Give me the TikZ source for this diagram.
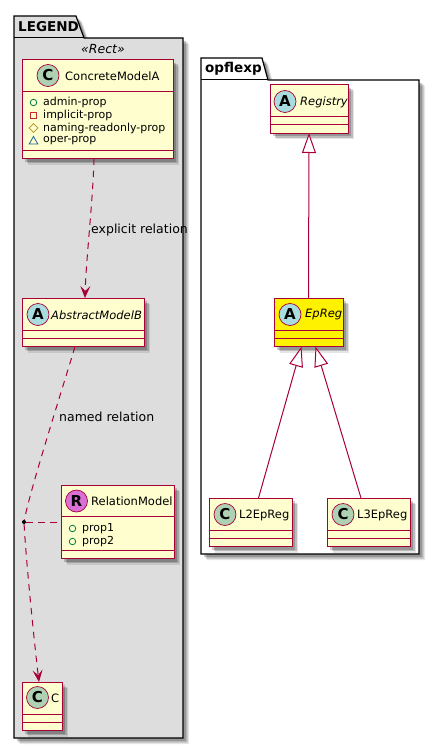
\documentclass[tikz,border=0pt]{standalone}
\usepackage{fontspec}
\setmainfont{DejaVu Sans}
\usetikzlibrary{arrows.meta,shadows,shapes.geometric}
\definecolor{umlline}{HTML}{A80036}
\definecolor{umlfill}{HTML}{FEFECE}
\tikzset{
  softshadow/.style={
    drop shadow={shadow xshift=6pt, shadow yshift=-6pt, opacity=0.1, fill=black},
    drop shadow={shadow xshift=4.5pt, shadow yshift=-4.5pt, opacity=0.18, fill=black},
    drop shadow={shadow xshift=3pt, shadow yshift=-3pt, opacity=0.2, fill=black}
  },
  umlclass/.style={
    shape = rectangle,
    anchor = north west,
    draw = umlline,
    line width = 1pt,
    fill = umlfill,
    outer sep = 0pt,
    inner sep = 0pt,
    softshadow
  },
  sep/.style={
    draw = umlline,
    line width = 1pt
  },
  spot/.style={
    shape = circle,
    draw = umlline,
    line width = 0.7pt,
    minimum size = 22pt,
    inner sep = 0pt,
    font = \fontsize{15}{15}\bfseries
  },
  spotc/.style={spot, fill={rgb,255:red,173;green,209;blue,178}},
  spota/.style={spot, fill={rgb,255:red,169;green,220;blue,223}},
  spotr/.style={spot, fill={rgb,255:red,218;green,112;blue,214}},
  title/.style={
    anchor = west,
    inner sep = 0pt,
    text = black,
    font = \fontsize{11.5}{14}\selectfont
  },
  ititle/.style={title, font = \fontsize{11.5}{14}\itshape},
  attr/.style={
    anchor = west,
    inner sep = 0pt,
    font = \fontsize{11}{12}\selectfont
  },
  rel/.style={
    anchor = west,
    inner sep = 0pt,
    font = \fontsize{12.5}{14}\selectfont
  },
  pkgname/.style={
    anchor = west,
    inner sep = 0pt,
    font = \fontsize{13.5}{14}\bfseries
  },
  pkg/.style={
    draw = black,
    line width = 1.2pt,
    softshadow
  },
  vis/.style={
    inner sep = 0pt,
    fill = none,
    line width = 0.8pt
  },
  dep/.style={
    draw = umlline,
    line width = 1pt,
    dash pattern = on 6.5pt off 5.5pt
  },
  open/.style={
    -{Stealth[length=12pt,width=10pt,inset=5pt,fill=umlline]}
  },
  inherit/.style={
    draw = umlline,
    line width = 1pt,
    {Triangle[open,fill=white,length=20pt,width=14pt]}-
  },
}
\begin{document}
\begin{tikzpicture}[x=1pt,y=-1pt]
\useasboundingbox (0,0) rectangle (440,749);
% packages
\draw[pkg, fill={rgb,255:red,221;green,221;blue,221}] (14,38) -- (14,16) -- (76,16) -- (84,38) -- (183,38) -- (183,738) -- (14,738) -- cycle;
\draw[line width=1pt] (14,38) -- (84,38);
\node[pkgname] (legend) at (18,27) {LEGEND};
\node[anchor=center, inner sep=0pt, font=\fontsize{12.5}{14}\itshape] (stereo) at (103,49.5) {«Rect»};
\draw[pkg, fill=white] (201,80) -- (201,58) -- (262,58) -- (268,80) -- (419,80) -- (419,554) -- (201,554) -- cycle;
\draw[line width=1pt] (201,80) -- (268,80);
\node[pkgname] (opflexp) at (205,69) {opflexp};
% class boxes
\node[umlclass, minimum width=151pt, minimum height=98.6pt] (concrete) at (22,60) {};
\node[umlclass, minimum width=122pt, minimum height=48.6pt] (abstract) at (22,298) {};
\node[umlclass, minimum width=113pt, minimum height=73.6pt] (relation) at (61,485) {};
\node[umlclass, minimum width=40pt, minimum height=48.6pt] (cclass) at (22,682) {};
\node[umlclass, minimum width=78pt, minimum height=48pt] (registry) at (270,85) {};
\node[umlclass, fill=yellow, minimum width=69pt, minimum height=48.6pt] (epreg) at (274,298) {};
\node[umlclass, minimum width=83pt, minimum height=48.6pt] (ltwo) at (209,498) {};
\node[umlclass, minimum width=83pt, minimum height=48.6pt] (lthree) at (327,498) {};
\foreach \nm in {concrete,abstract,relation,cclass,registry,epreg,ltwo,lthree}{
  \draw[sep] ([yshift=8.2pt]\nm.south west) -- ([yshift=8.2pt]\nm.south east);
}
\foreach \nm in {abstract,cclass,registry,epreg,ltwo,lthree}{
  \draw[sep] ([yshift=16.2pt]\nm.south west) -- ([yshift=16.2pt]\nm.south east);
}
\foreach \nm in {concrete,relation}{
  \draw[sep] ([yshift=-31.7pt]\nm.north west) -- ([yshift=-31.7pt]\nm.north east);
}
% spots and titles
\foreach \nm/\st/\ltr/\x/\y in {sconcrete/spotc/C/48/75.5,sabstract/spota/A/38/314.5,srelation/spotr/R/76.5/501,scclass/spotc/C/37.5/697.5,sregistry/spota/A/285/101.5,sepreg/spota/A/290/314.5,sltwo/spotc/C/225/514.5,slthree/spotc/C/343/514.5}{
  \node[\st] (\nm) at (\x,\y) {\ltr};
}
\node[title] (tconcrete) at (65,76) {ConcreteModelA};
\node[ititle] (tabstract) at (51,315) {AbstractModelB};
\node[title] (trelation) at (91,501.5) {RelationModel};
\node[title] (tcclass) at (51,698.5) {C};
\node[ititle] (tregistry) at (300,102) {Registry};
\node[ititle] (tepreg) at (305,315) {EpReg};
\node[title] (tltwo) at (239,515) {L2EpReg};
\node[title] (tlthree) at (357,515) {L3EpReg};
% attributes
\node[attr] (aadmin) at (43,102) {admin-prop};
\node[attr] (aimplicit) at (43,115) {implicit-prop};
\node[attr] (anaming) at (43,128) {naming-readonly-prop};
\node[attr] (aoper) at (43,141) {oper-prop};
\node[attr] (aprop) at (82,528.5) {prop1};
\node[attr] (bprop) at (82,541.5) {prop2};
\node[vis, shape=circle, draw={rgb,255:red,3;green,128;blue,72}, minimum size=6.5pt] (vadmin) at (33.5,102.5) {};
\node[vis, shape=rectangle, draw={rgb,255:red,200;green,41;blue,48}, minimum size=6pt] (vimplicit) at (33.5,115.5) {};
\node[vis, shape=diamond, draw={rgb,255:red,179;green,141;blue,34}, minimum size=9pt] (vnaming) at (33.5,128) {};
\node[vis, shape=regular polygon, regular polygon sides=3, draw={rgb,255:red,25;green,99;blue,160}, minimum size=10pt] (voper) at (33.5,141.5) {};
\node[vis, shape=circle, draw={rgb,255:red,3;green,128;blue,72}, minimum size=6.5pt] (vprop) at (72.5,528.5) {};
\node[vis, shape=circle, draw={rgb,255:red,3;green,128;blue,72}, minimum size=6.5pt] (wprop) at (72.5,541.5) {};
% relations
\node[rel] (lexplicit) at (91,230) {explicit relation};
\node[rel] (lnamed) at (59,417) {named relation};
\node[shape=circle, fill=black, inner sep=0pt, minimum size=4pt] (assoc) at (24,522) {};
\draw[dep, open] ([xshift=-3.5pt]concrete.south) .. controls (93,200) and (86,260) .. ([xshift=2pt]abstract.north);
\draw[dep] ([xshift=-8pt]abstract.south) .. controls (62,390) and (30,490) .. (assoc);
\draw[dep, open] (assoc) .. controls (26,560) and (34,640) .. ([xshift=-3pt]cclass.north);
\draw[dep] (assoc) -- (assoc -| relation.west);
\draw[inherit] (registry.south) -- (epreg.north);
\draw[inherit] ([xshift=-7pt]epreg.south) -- ([xshift=8pt]ltwo.north);
\draw[inherit] ([xshift=7pt]epreg.south) -- ([xshift=-7.5pt]lthree.north);
\end{tikzpicture}
\end{document}
